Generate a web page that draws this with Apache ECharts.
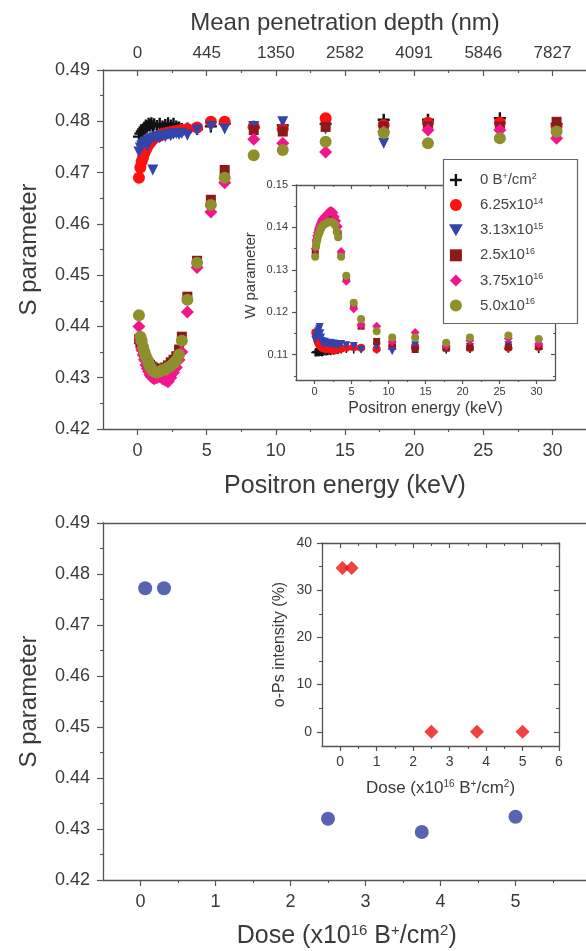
<!DOCTYPE html>
<html><head><meta charset="utf-8">
<script src="https://cdn.jsdelivr.net/npm/echarts@6/dist/echarts.min.js"></script>
<style>html,body{margin:0;padding:0;background:#fff}#c{width:586px;height:951px}</style>
</head><body><div id="c"></div>
<script>
// ---------- data ----------
const energy = [0.1,0.2,0.3,0.4,0.5,0.6,0.7,0.8,0.9,1.0,1.1,1.2,1.4,1.6,1.8,2.0,2.2,2.4,2.6,2.8,3.0,3.2,3.6,4.3,5.3,6.3,8.4,10.5,13.6,17.8,21.0,26.2,30.3];
const sBlack  = [0.4770,0.4776,0.4780,0.4784,0.4788,0.4792,0.4790,0.4795,0.4792,0.4796,0.4790,0.4794,0.4791,0.4795,0.4790,0.4793,0.4796,0.4792,0.4795,0.4790,0.4788,0.4785,0.4786,0.4785,0.4790,0.4795,0.4788,0.4792,0.4795,0.4803,0.4803,0.4806,0.4795];
const sRed    = [0.4690,0.4710,0.4722,0.4730,0.4738,0.4745,0.4750,0.4755,0.4758,0.4762,0.4765,0.4768,0.4770,0.4772,0.4775,0.4776,0.4778,0.4778,0.4780,0.4781,0.4782,0.4783,0.4785,0.4788,0.4799,0.4799,0.4790,0.4785,0.4806,0.4793,0.4797,0.4797,0.4790];
const sBlue   = [0.4740,0.4748,0.4752,0.4755,0.4758,0.4760,0.4752,0.4762,0.4765,0.4766,0.4705,0.4768,0.4770,0.4768,0.4772,0.4770,0.4774,0.4772,0.4775,0.4776,0.4774,0.4776,0.4773,0.4783,0.4790,0.4785,0.4790,0.4799,0.4785,0.4757,0.4790,0.4785,0.4785];
const sMaroon = [0.4375,0.4368,0.4360,0.4352,0.4345,0.4338,0.4332,0.4328,0.4325,0.4322,0.4320,0.4318,0.4316,0.4315,0.4318,0.4320,0.4324,0.4330,0.4335,0.4342,0.4355,0.4380,0.4458,0.4528,0.4647,0.4705,0.4783,0.4780,0.4789,0.4790,0.4790,0.4790,0.4799];
const sPink   = [0.4400,0.4370,0.4355,0.4345,0.4335,0.4325,0.4318,0.4312,0.4306,0.4302,0.4300,0.4298,0.4300,0.4302,0.4298,0.4295,0.4292,0.4300,0.4310,0.4320,0.4335,0.4350,0.4428,0.4515,0.4623,0.4680,0.4765,0.4757,0.4740,0.4780,0.4783,0.4783,0.4767];
const sOlive  = [0.4422,0.4380,0.4372,0.4360,0.4350,0.4342,0.4335,0.4328,0.4322,0.4318,0.4314,0.4312,0.4310,0.4312,0.4315,0.4316,0.4320,0.4323,0.4328,0.4334,0.4345,0.4372,0.4452,0.4524,0.4637,0.4690,0.4734,0.4744,0.4760,0.4777,0.4757,0.4767,0.4780];

const wBlack  = [0.1105,0.1106,0.1105,0.1107,0.1106,0.1105,0.1107,0.1106,0.1108,0.1105,0.1106,0.1107,0.1108,0.1107,0.1108,0.1109,0.1108,0.1110,0.1109,0.1110,0.1111,0.1111,0.1112,0.1113,0.1112,0.1114,0.1112,0.1113,0.1114,0.1112,0.1113,0.1114,0.1113];
const wRed    = [0.1152,0.1145,0.1138,0.1132,0.1128,0.1125,0.1122,0.1120,0.1118,0.1117,0.1116,0.1115,0.1114,0.1114,0.1113,0.1113,0.1112,0.1112,0.1112,0.1111,0.1112,0.1113,0.1114,0.1116,0.1118,0.1116,0.1113,0.1120,0.1120,0.1118,0.1116,0.1116,0.1118];
const wBlue   = [0.1135,0.1140,0.1145,0.1150,0.1155,0.1160,0.1165,0.1150,0.1140,0.1132,0.1128,0.1125,0.1130,0.1126,0.1128,0.1125,0.1127,0.1124,0.1126,0.1123,0.1125,0.1122,0.1125,0.1122,0.1120,0.1112,0.1118,0.1108,0.1122,0.1120,0.1118,0.1122,0.1128];
const wMaroon = [0.1340,0.1360,0.1372,0.1380,0.1386,0.1392,0.1396,0.1400,0.1403,0.1406,0.1408,0.1410,0.1413,0.1416,0.1418,0.1420,0.1420,0.1418,0.1415,0.1408,0.1398,0.1385,0.1336,0.1280,0.1215,0.1167,0.1131,0.1126,0.1112,0.1115,0.1116,0.1118,0.1120];
const wPink   = [0.1350,0.1370,0.1380,0.1388,0.1395,0.1400,0.1405,0.1410,0.1414,0.1418,0.1420,0.1423,0.1427,0.1430,0.1434,0.1438,0.1440,0.1438,0.1435,0.1425,0.1415,0.1402,0.1343,0.1273,0.1208,0.1170,0.1167,0.1130,0.1152,0.1120,0.1133,0.1138,0.1125];
const wOlive  = [0.1331,0.1355,0.1365,0.1372,0.1380,0.1385,0.1390,0.1395,0.1398,0.1402,0.1404,0.1406,0.1408,0.1410,0.1412,0.1414,0.1413,0.1412,0.1410,0.1405,0.1390,0.1377,0.1331,0.1286,0.1222,0.1184,0.1155,0.1140,0.1140,0.1128,0.1140,0.1145,0.1137];

const seriesNames = ['0 B+/cm2','6.25x10^14','3.13x10^15','2.5x10^16','3.75x10^16','5.0x10^16'];
const legendLabels = ['{a|0 B}{s|+}{a|/cm}{s|2}','{a|6.25x10}{s|14}','{a|3.13x10}{s|15}','{a|2.5x10}{s|16}','{a|3.75x10}{s|16}','{a|5.0x10}{s|16}'];

const energyTicks = [0,5,10,15,20,25,30];
const energyMinor = [2.5,7.5,12.5,17.5,22.5,27.5];
const depthLabels = ['0','445','1350','2582','4091','5846','7827'];
const sTicks = [0.42,0.43,0.44,0.45,0.46,0.47,0.48,0.49];
const sMinor = [0.425,0.435,0.445,0.455,0.465,0.475,0.485];
const wTicks = [0.11,0.12,0.13,0.14,0.15];
const wMinor = [0.105,0.115,0.125,0.135,0.145];

const doses = [0.0625,0.313,2.5,3.75,5.0];
const sDose = [0.4772,0.4772,0.4320,0.4294,0.4324];
const opsIntensity = [34.7,34.7,0,0,0];
const doseTicks = [0,1,2,3,4,5,6];
const doseMinor = [0.5,1.5,2.5,3.5,4.5,5.5];
const opsTicks = [0,10,20,30,40];
const opsMinor = [5,15,25,35];

// ---------- styling ----------
const AX = '#555', TX = '#3a3a3a', FF = '"Liberation Sans", Arial, sans-serif';
const colors = ['#111111','#ff1010','#3344aa','#8b1a1a','#f2168e','#8f8f2c'];
const symbols = ['path://M4,0H6V4H10V6H6V10H4V6H0V4H4Z','circle','path://M0,0L10,0L5,8.7Z',
  'path://M0,0H10V10H0Z','path://M5,0L10,5L5,10L0,5Z','circle'];
const symMain = [12,12,11,10,13,12];
const symInset = [8,8,8,7,9,8];

function richName(fs) {
  return {fontFamily: FF, color: TX, fontSize: fs,
    rich: {a:{fontSize:fs, fontFamily:FF, color:TX, lineHeight:fs+2},
           s:{fontSize:Math.round(fs*0.6), fontFamily:FF, color:TX, verticalAlign:'top', lineHeight:fs+2}}};
}

const xAxes = [], yAxes = [];
function addPair(list, grid, pos, min, max, majors, minors, o) {
  const base = () => ({type:'value', gridIndex:grid, position:pos, min:min, max:max, splitLine:{show:false}});
  const major = base();
  major.axisLine = {show: o.line !== false, onZero:false, lineStyle:{color:AX, width:1.3}};
  major.axisTick = majors ? {show:true, inside:!!o.inside, length:o.len||6, customValues:majors, lineStyle:{color:AX, width:1.2}} : {show:false};
  major.axisLabel = (o.labels && majors) ? {show:true, customValues:majors, fontSize:o.fs, color:TX, fontFamily:FF, margin:o.margin, formatter:o.fmt} : {show:false};
  if (o.name) {
    major.name = o.name; major.nameLocation = 'middle'; major.nameGap = o.nameGap;
    major.nameTextStyle = Object.assign(richName(o.nameFs), o.namePad ? {padding:o.namePad} : {});
    if (o.rot) major.nameRotate = o.rot;
  }
  const idx = list.length;
  list.push(major);
  if (minors) {
    const minor = base();
    minor.axisLine = {show:false, onZero:false};
    minor.axisTick = {show:true, inside:!!o.inside, length:Math.round((o.len||6)*0.55), customValues:minors, lineStyle:{color:AX, width:1.1}};
    minor.axisLabel = {show:false};
    list.push(minor);
  }
  return idx;
}

// grid 0 : S vs energy (top panel)
const gx0 = addPair(xAxes, 0, 'bottom', -2.5, 32.5, energyTicks, energyMinor, {labels:true, fs:18, margin:13, len:6,
  name:'Positron energy (keV)', nameGap:45, nameFs:25});
addPair(xAxes, 0, 'top', -2.5, 32.5, energyTicks, energyMinor, {labels:true, inside:true, fs:17, margin:8, len:6,
  fmt: v => depthLabels[Math.round(v/5)], name:'Mean penetration depth (nm)', nameGap:35, nameFs:24});
const gy0 = addPair(yAxes, 0, 'left', 0.42, 0.49, sTicks, sMinor, {labels:true, fs:18, margin:13, len:6,
  fmt: v => v.toFixed(2), name:'S parameter', nameGap:62, nameFs:24, rot:90});

// grid 1 : W inset
const gx1 = addPair(xAxes, 1, 'bottom', -2.5, 32.5, energyTicks, energyMinor, {labels:true, fs:11, margin:6, len:4,
  name:'Positron energy (keV)', nameGap:21, nameFs:16});
addPair(xAxes, 1, 'top', -2.5, 32.5, energyTicks, energyMinor, {inside:true, len:4});
const gy1 = addPair(yAxes, 1, 'left', 0.104, 0.15, wTicks, wMinor, {labels:true, fs:11, margin:8, len:4,
  fmt: v => v.toFixed(2), name:'W parameter', nameGap:38, nameFs:15, rot:90, namePad:[0,0,0,14]});
addPair(yAxes, 1, 'right', 0.104, 0.15, wTicks, wMinor, {inside:true, len:4});

// grid 2 : S vs dose (bottom panel)
const gx2 = addPair(xAxes, 2, 'bottom', -0.5, 6, doseTicks, doseMinor, {labels:true, fs:18, margin:13, len:6,
  name:'{a|Dose (x10}{s|16}{a| B}{s|+}{a|/cm}{s|2}{a|)}', nameGap:43, nameFs:25});
addPair(xAxes, 2, 'top', -0.5, 6, null, null, {});
const gy2 = addPair(yAxes, 2, 'left', 0.42, 0.49, sTicks, sMinor, {labels:true, fs:18, margin:13, len:6,
  fmt: v => v.toFixed(2), name:'S parameter', nameGap:62, nameFs:24, rot:90});

// grid 3 : o-Ps inset
const gx3 = addPair(xAxes, 3, 'bottom', -0.5, 6, doseTicks, doseMinor, {labels:true, fs:14, margin:9, len:5,
  name:'{a|Dose (x10}{s|16}{a| B}{s|+}{a|/cm}{s|2}{a|)}', nameGap:33, nameFs:17});
addPair(xAxes, 3, 'top', -0.5, 6, doseTicks, doseMinor, {inside:true, len:5});
const gy3 = addPair(yAxes, 3, 'left', -3, 40, opsTicks, opsMinor, {labels:true, fs:14, margin:10, len:5,
  name:'o-Ps intensity (%)', nameGap:34, nameFs:16, rot:90});
addPair(yAxes, 3, 'right', -3, 40, opsTicks, opsMinor, {inside:true, len:5});

const sSets = [sBlack, sRed, sBlue, sMaroon, sPink, sOlive];
const wSets = [wBlack, wRed, wBlue, wMaroon, wPink, wOlive];
const series = [];
sSets.forEach((arr, i) => {
  series.push({type:'scatter', name:seriesNames[i], xAxisIndex:gx0, yAxisIndex:gy0, symbol:symbols[i], symbolSize:symMain[i],
    itemStyle:{color:colors[i], opacity:1}, silent:true, z:2+i, data: energy.map((e,k) => [e, arr[k]])});
});
wSets.forEach((arr, i) => {
  series.push({type:'scatter', name:seriesNames[i], xAxisIndex:gx1, yAxisIndex:gy1, symbol:symbols[i], symbolSize:symInset[i],
    itemStyle:{color:colors[i], opacity:1}, silent:true, z:2+i, data: energy.map((e,k) => [e, arr[k]])});
});
series.push({type:'scatter', name:'S dose', xAxisIndex:gx2, yAxisIndex:gy2, symbol:'circle', symbolSize:14,
  itemStyle:{color:'#2e3d9e'}, silent:true, data: doses.map((d,k) => [d, sDose[k]])});
series.push({type:'scatter', name:'oPs', xAxisIndex:gx3, yAxisIndex:gy3, symbol:'path://M5,0L10,5L5,10L0,5Z', symbolSize:14,
  itemStyle:{color:'#ee1111'}, silent:true, data: doses.map((d,k) => [d, opsIntensity[k]])});

const chart = echarts.init(document.getElementById('c'), null, {renderer:'canvas'});
chart.setOption({
  animation:false,
  backgroundColor:'#ffffff',
  grid:[
    {left:103, top:70, width:484, height:359, outerBoundsMode:'none', containLabel:false},
    {left:296, top:185, width:259, height:195, outerBoundsMode:'none', containLabel:false},
    {left:103, top:523, width:487.5, height:357, outerBoundsMode:'none', containLabel:false},
    {left:322, top:543, width:237, height:203, outerBoundsMode:'none', containLabel:false}
  ],
  xAxis:xAxes, yAxis:yAxes,
  graphic:[{type:'rect', z:50, shape:{x:443.5, y:159.5, width:134, height:164},
    style:{fill:'#ffffff', stroke:'#666', lineWidth:1.2}}],
  legend:{data:seriesNames, orient:'vertical', left:449, top:172, itemWidth:38, itemHeight:12, itemGap:9.6,
    padding:0, z:60, selectedMode:false,
    formatter: n => legendLabels[seriesNames.indexOf(n)],
    textStyle:{fontFamily:FF, color:'#444', fontSize:15,
      rich:{a:{fontSize:15, fontFamily:FF, color:'#444', lineHeight:16},
            s:{fontSize:9, fontFamily:FF, color:'#444', verticalAlign:'top', lineHeight:16}}}},
  series:series
});
</script></body></html>
